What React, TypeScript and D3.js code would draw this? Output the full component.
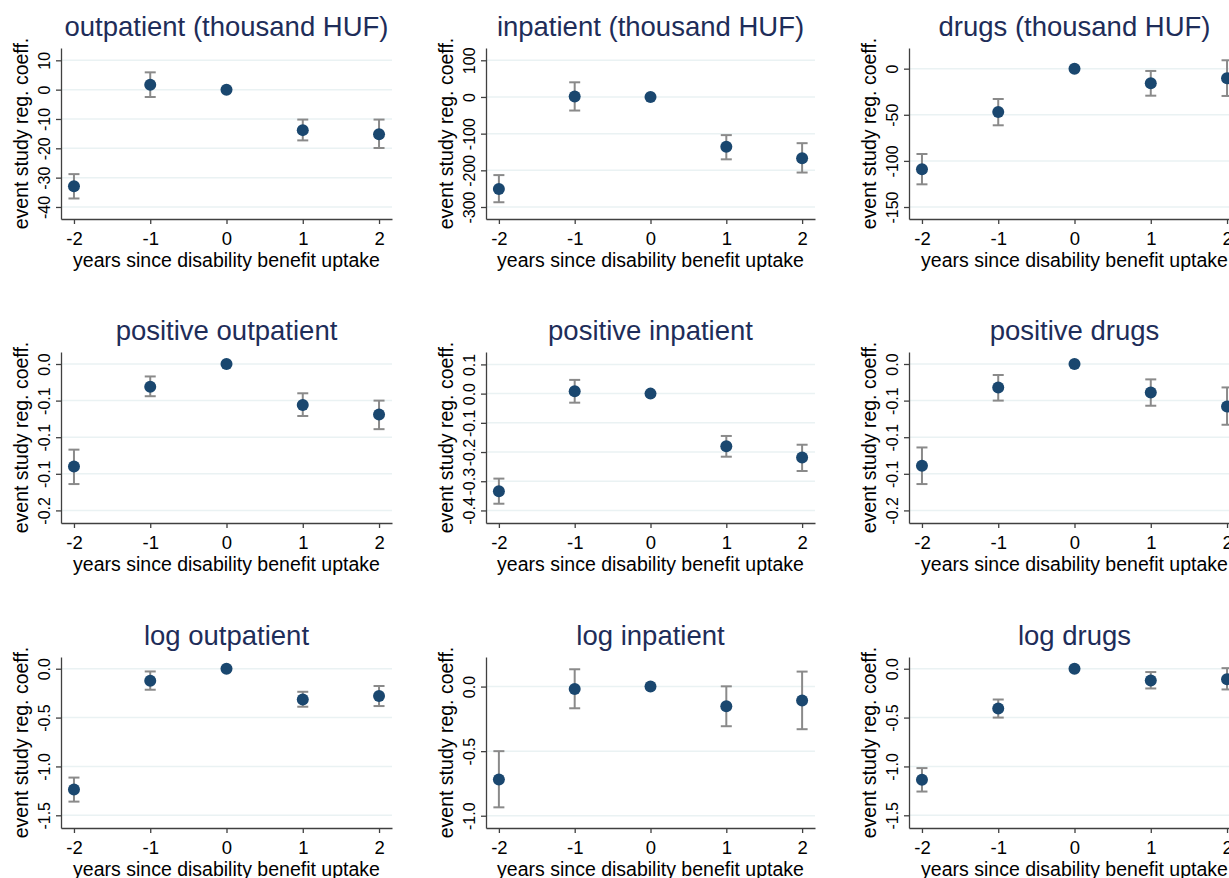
import * as d3 from 'd3';
import { useEffect, useRef } from 'react';

// event study coefficients, years relative to disability benefit uptake
const years = [-2, -1, 0, 1, 2];

const titles = [
    "outpatient (thousand HUF)",
    "inpatient (thousand HUF)",
    "drugs (thousand HUF)",
    "positive outpatient",
    "positive inpatient",
    "positive drugs",
    "log outpatient",
    "log inpatient",
    "log drugs",
];

const coefs = [
    [-32.9, 1.7, 0, -13.8, -15.2],
    [-251, 1, 0, -136, -167],
    [-109, -47, 0, -15.8, -10.4],
    [-0.140, -0.031, 0, -0.056, -0.069],
    [-0.334, 0.008, 0, -0.180, -0.219],
    [-0.139, -0.032, 0, -0.039, -0.058],
    [-1.237, -0.123, 0, -0.314, -0.280],
    [-0.719, -0.018, 0, -0.152, -0.108],
    [-1.137, -0.408, 0, -0.120, -0.107],
];

const lower = [
    [-37.1, -2.5, 0, -17.3, -19.9],
    [-287, -37, 0, -170, -206],
    [-125.4, -61.4, 0, -29.3, -29.6],
    [-0.164, -0.044, 0, -0.071, -0.089],
    [-0.377, -0.031, 0, -0.216, -0.265],
    [-0.164, -0.050, 0, -0.057, -0.083],
    [-1.36, -0.215, 0, -0.389, -0.382],
    [-0.935, -0.168, 0, -0.307, -0.330],
    [-1.257, -0.5, 0, -0.202, -0.212],
];

const upper = [
    [-28.8, 5.9, 0, -10.2, -10.2],
    [-213, 40, 0, -104, -126],
    [-92.5, -32.9, 0, -2.5, 9.1],
    [-0.117, -0.017, 0, -0.040, -0.050],
    [-0.291, 0.047, 0, -0.145, -0.175],
    [-0.114, -0.015, 0, -0.021, -0.032],
    [-1.114, -0.028, 0, -0.236, -0.177],
    [-0.5, 0.134, 0, 0.002, 0.116],
    [-1.017, -0.315, 0, -0.034, 0.006],
];

const yTicks = [
    [10, 0, -10, -20, -30, -40],
    [100, 0, -100, -200, -300],
    [0, -50, -100, -150],
    [0, -0.05, -0.1, -0.15, -0.2],
    [0.1, 0, -0.1, -0.2, -0.3, -0.4],
    [0, -0.05, -0.1, -0.15, -0.2],
    [0, -0.5, -1, -1.5],
    [0, -0.5, -1],
    [0, -0.5, -1, -1.5],
];

const yTickLabels = [
    ["10", "0", "-10", "-20", "-30", "-40"],
    ["100", "0", "-100", "-200", "-300"],
    ["0", "-50", "-100", "-150"],
    ["0.0", "-0.1", "-0.1", "-0.1", "-0.2"],
    ["0.1", "0.0", "-0.1", "-0.2", "-0.3", "-0.4"],
    ["0.0", "-0.1", "-0.1", "-0.1", "-0.2"],
    ["0.0", "-0.5", "-1.0", "-1.5"],
    ["0.0", "-0.5", "-1.0"],
    ["0.0", "-0.5", "-1.0", "-1.5"],
];

const yDomains = [
    [-44.1, 14.2],
    [-332.7, 133.5],
    [-163, 22.4],
    [-0.2172, 0.0164],
    [-0.443, 0.1425],
    [-0.2172, 0.0164],
    [-1.63, 0.12],
    [-1.095, 0.229],
    [-1.63, 0.12],
];

const xDomain = [-2.17, 2.17];

const App = () => {
    const ref = useRef<SVGSVGElement>(null);

    useEffect(() => {
        const svg = d3.select(ref.current);
        svg.selectAll("*").remove();

        const font = "'Liberation Sans', Arial, sans-serif";
        const colLeft = [61, 486, 909];
        const colRight = [392, 815, 1240];
        const rowTop = [48, 352, 657];
        const plotH = 171;

        svg.append("rect").attr("width", 1229).attr("height", 878).attr("fill", "#fff");

        titles.forEach((title, i) => {
            const c = i % 3, r = Math.floor(i / 3);
            const x0 = colLeft[c], x1 = colRight[c];
            const y0 = rowTop[r], y1 = y0 + plotH;

            const x: any = d3.scaleLinear().domain(xDomain).range([x0, x1]);
            const y: any = d3.scaleLinear().domain(yDomains[i]).range([y1, y0]);

            const g = svg.append("g");

            // grid lines
            g.selectAll(".grid")
                .data(yTicks[i])
                .enter().append("line")
                .attr("x1", x0).attr("x2", x1)
                .attr("y1", (d: any) => y(d)).attr("y2", (d: any) => y(d))
                .attr("stroke", "#eaf2f3")
                .attr("stroke-width", 1.5);

            // y axis
            const yAxis = g.append("g")
                .attr("transform", "translate(" + x0 + ",0)")
                .call(d3.axisLeft(y)
                    .tickValues(yTicks[i])
                    .tickSize(5)
                    .tickSizeOuter(0)
                    .tickFormat((_d: any, k: number) => yTickLabels[i][k]));
            yAxis.selectAll("path, line").attr("stroke", "#404040").attr("stroke-width", 1.3);
            yAxis.selectAll("text")
                .attr("x", null).attr("dy", null)
                .attr("text-anchor", "middle")
                .attr("transform", "translate(-11,0) rotate(-90)")
                .style("font-family", font)
                .style("font-size", "16px")
                .attr("fill", "#000");

            // x axis
            const xAxis = g.append("g")
                .attr("transform", "translate(0," + y1 + ")")
                .call(d3.axisBottom(x)
                    .tickValues(years)
                    .tickSize(5)
                    .tickSizeOuter(0)
                    .tickFormat((d: any) => String(d)));
            xAxis.selectAll("path, line").attr("stroke", "#404040").attr("stroke-width", 1.3);
            xAxis.selectAll("text")
                .attr("y", 26).attr("dy", null)
                .style("font-family", font)
                .style("font-size", "18.5px")
                .attr("fill", "#000");

            // confidence intervals
            const ci = years.map((yr, k) => ({ yr, lo: lower[i][k], hi: upper[i][k] }))
                .filter((d) => d.lo !== d.hi);
            const bars = g.selectAll(".ci").data(ci).enter().append("g")
                .attr("stroke", "#8a8a8a").attr("stroke-width", 2);
            bars.append("line")
                .attr("x1", (d: any) => x(d.yr)).attr("x2", (d: any) => x(d.yr))
                .attr("y1", (d: any) => y(d.lo)).attr("y2", (d: any) => y(d.hi));
            bars.append("line")
                .attr("x1", (d: any) => x(d.yr) - 5.5).attr("x2", (d: any) => x(d.yr) + 5.5)
                .attr("y1", (d: any) => y(d.lo)).attr("y2", (d: any) => y(d.lo));
            bars.append("line")
                .attr("x1", (d: any) => x(d.yr) - 5.5).attr("x2", (d: any) => x(d.yr) + 5.5)
                .attr("y1", (d: any) => y(d.hi)).attr("y2", (d: any) => y(d.hi));

            // point estimates
            g.selectAll(".pt")
                .data(years)
                .enter().append("circle")
                .attr("cx", (d: any) => x(d))
                .attr("cy", (_d: any, k: number) => y(coefs[i][k]))
                .attr("r", 6)
                .attr("fill", "#1a476f");

            // labels
            g.append("text")
                .attr("x", (x0 + x1) / 2).attr("y", y0 - 12)
                .attr("text-anchor", "middle")
                .style("font-family", font).style("font-size", "27.5px")
                .attr("fill", "#1e2d59")
                .text(title);
            g.append("text")
                .attr("x", (x0 + x1) / 2).attr("y", y1 + 48)
                .attr("text-anchor", "middle")
                .style("font-family", font).style("font-size", "19.5px")
                .attr("fill", "#000")
                .text("years since disability benefit uptake");
            g.append("text")
                .attr("text-anchor", "middle")
                .attr("transform", "translate(" + (x0 - 33.5) + "," + ((y0 + y1) / 2) + ")rotate(-90)")
                .style("font-family", font).style("font-size", "19.5px")
                .attr("fill", "#000")
                .text("event study reg. coeff.");
        });
    }, []);

    return (
        <svg ref={ref} width={1229} height={878}
            style={{ position: "absolute", left: 0, top: 0, display: "block" }} />
    );
};

export default App;
